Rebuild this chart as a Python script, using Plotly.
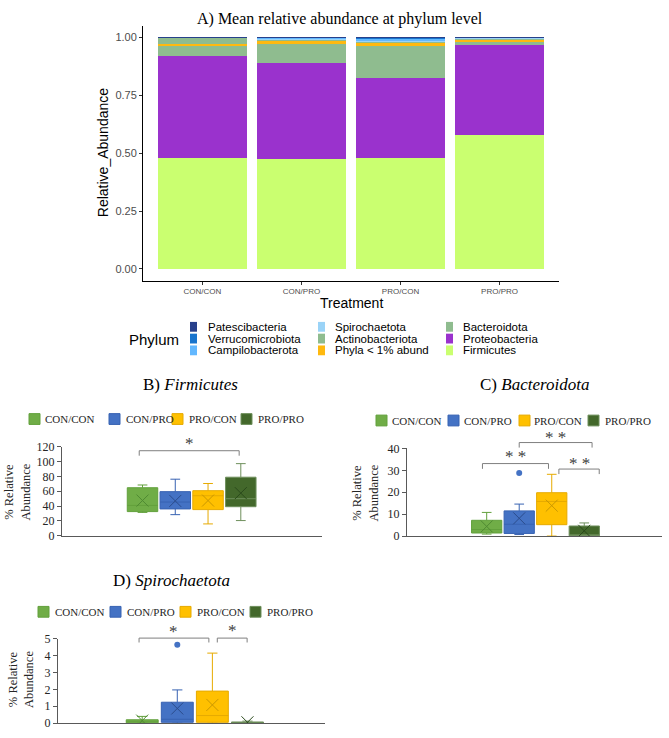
import plotly.graph_objects as go

W, H = 669, 738

# ---------------- data ----------------
treatments = ["CON/CON", "CON/PRO", "PRO/CON", "PRO/PRO"]

# stacking order, bottom -> top
phyla = ["Firmicutes", "Proteobacteria", "Bacteroidota", "Phyla < 1% abund",
         "Actinobacteriota", "Spirochaetota", "Campilobacterota",
         "Verrucomicrobiota", "Patescibacteria"]
phyla_colors = ["#CAFF70", "#9A32CD", "#8FBC8F", "#FFB90F",
                "#8FBC8F", "#9AD3F7", "#63B8FF", "#1874CD", "#27408B"]
firmicutes = [0.477, 0.475, 0.477, 0.579]
proteobacteria = [0.442, 0.416, 0.348, 0.387]
bacteroidota = [0.046, 0.081, 0.137, 0.016]
phyla_lt1 = [0.007, 0.014, 0.016, 0.008]
actinobacteriota = [0.025, 0.002, 0.002, 0.001]
spirochaetota = [0.001, 0.005, 0.006, 0.005]
campilobacterota = [0.001, 0.005, 0.008, 0.003]
verrucomicrobiota = [0.0005, 0.001, 0.003, 0.0005]
patescibacteria = [0.0005, 0.001, 0.003, 0.0005]
phyla_values = [firmicutes, proteobacteria, bacteroidota, phyla_lt1,
                actinobacteriota, spirochaetota, campilobacterota,
                verrucomicrobiota, patescibacteria]
legend_order = ["Patescibacteria", "Verrucomicrobiota", "Campilobacterota",
                "Spirochaetota", "Actinobacteriota", "Phyla < 1% abund",
                "Bacteroidota", "Proteobacteria", "Firmicutes"]

# box plot summaries (% relative abundance)
firm_q1 = [32.6, 36.2, 35.3, 39.2]
firm_med = [41.0, 45.5, 54.0, 50.0]
firm_q3 = [64.8, 59.5, 60.8, 79.0]
firm_lo = [31.5, 28.5, 16.0, 20.5]
firm_hi = [68.5, 76.3, 70.5, 97.3]
firm_mean = [47.5, 47.0, 47.5, 57.5]
firm_out = [[], [], [], []]

bact_q1 = [1.4, 1.2, 5.2, 0.1]
bact_med = [3.0, 5.4, 15.8, 0.4]
bact_q3 = [7.2, 11.5, 19.8, 4.6]
bact_lo = [0.9, 0.7, 0.0, 0.0]
bact_hi = [10.8, 14.6, 28.2, 6.0]
bact_mean = [4.4, 8.1, 13.9, 2.4]
bact_out = [[], [28.8], [], []]

spir_q1 = [0.02, 0.05, 0.05, 0.0]
spir_med = [0.05, 0.23, 0.45, 0.02]
spir_q3 = [0.2, 1.24, 1.9, 0.07]
spir_lo = [0.0, 0.0, 0.0, 0.0]
spir_hi = [0.4, 1.97, 4.15, 0.12]
spir_mean = [0.15, 0.87, 1.08, 0.05]
spir_out = [[], [4.65], [], []]

box_fill = ["#70AD47", "#4472C4", "#FFC000", "#43682B"]
box_line = ["#62A03C", "#3762B2", "#E6AA00", "#6E8F5C"]
mean_col = ["#4F8A32", "#2B4C8C", "#C99700", "#2A4A1B"]

# significance brackets: (from box index, to box index, top value, end value, label, label value)
firm_sig = [(-0.1, 2.95, 114.7, 108.0, "*", 124.0)]
bact_sig = [(-0.13, 1.9, 33.1, 30.7, "* *", 36.4),
            (1.0, 3.24, 42.7, 40.4, "* *", 45.0),
            (2.22, 3.46, 30.6, 28.3, "* *", 33.3)]
spir_sig = [(-0.09, 1.9, 5.04, 4.78, "*", 5.42),
            (2.14, 2.99, 5.04, 4.78, "*", 5.52)]

# ---------------- helpers ----------------
def px(x):
    return x / W


def py(y):
    return 1 - y / H


SANS = "Liberation Sans, Arial, sans-serif"
SERIF = "Liberation Serif, Times New Roman, serif"

fig = go.Figure()
shapes = []
annotations = []


def note(text, x, y, family, size, color="black", xanchor="center", xref="paper",
         yref="paper", **kw):
    annotations.append(dict(text=text, x=x, y=y, xref=xref, yref=yref,
                            xanchor=xanchor, yanchor="middle", showarrow=False,
                            font=dict(family=family, size=size, color=color), **kw))


# ---------------- panel A ----------------
for name, col, vals in zip(phyla, phyla_colors, phyla_values):
    fig.add_trace(go.Bar(x=treatments, y=vals, name=name, marker_color=col,
                         marker_line_width=0, width=0.9, showlegend=False,
                         xaxis="x", yaxis="y"))

fig.update_layout(
    barmode="stack",
    xaxis=dict(domain=[px(143), px(559)], anchor="y", type="category",
               categoryorder="array", categoryarray=treatments, range=[-0.6, 3.6],
               showline=True, linecolor="black", linewidth=1, ticks="outside",
               ticklen=3, tickcolor="#333333", showgrid=False, zeroline=False,
               tickfont=dict(family=SANS, size=8, color="#4D4D4D")),
    yaxis=dict(domain=[py(278.8), py(19.2)], anchor="x", range=[-0.05, 1.05],
               tickvals=[0, 0.25, 0.5, 0.75, 1.0],
               ticktext=["0.00", "0.25", "0.50", "0.75", "1.00"],
               showline=True, linecolor="black", linewidth=1, ticks="outside",
               ticklen=3, tickcolor="#333333", showgrid=False, zeroline=False,
               tickfont=dict(family=SANS, size=11, color="#4D4D4D")),
)
note("A) Mean relative abundance at phylum level", px(340), py(12), SERIF, 16)
note("Treatment", px(351), py(302), SANS, 14)
note("Relative_Abundance", px(103), py(149), SANS, 14, textangle=-90)
note("Phylum", px(181), py(339), SANS, 15, xanchor="right")
col_sw = [190, 318, 446]
col_tx = [206, 333, 461]
row_y = [326, 338, 350]
for k, name in enumerate(legend_order):
    c, r = divmod(k, 3)
    colr = phyla_colors[phyla.index(name)]
    shapes.append(dict(type="rect", xref="paper", yref="paper",
                       x0=px(col_sw[c]), x1=px(col_sw[c] + 7),
                       y0=py(row_y[r] + 5), y1=py(row_y[r] - 5),
                       fillcolor=colr, line=dict(width=0)))
    note(name, px(col_tx[c]), py(row_y[r]), SANS, 11.5, xanchor="left")

# ---------------- box panels ----------------
panels = [
    dict(ax="2", title="B) <i>Firmicutes</i>", tx=191, ty=385,
         xdom=(62, 322), ydom=(539, 448.3), xr=[-2.457, 5.478], yr=[0, 120], dtick=20,
         q1=firm_q1, med=firm_med, q3=firm_q3, lo=firm_lo, hi=firm_hi, mean=firm_mean,
         out=firm_out, sig=firm_sig, bw=0.93,
         leg_sw=[29, 109, 172, 241], leg_tx=[43, 124, 187, 256], leg_y=420,
         yt=(17, 495)),
    dict(ax="3", title="C) <i>Bacteroidota</i>", tx=534, ty=385,
         xdom=(407, 662), ydom=(539.3, 450), xr=[-2.45, 5.39], yr=[0, 40], dtick=10,
         q1=bact_q1, med=bact_med, q3=bact_q3, lo=bact_lo, hi=bact_hi, mean=bact_mean,
         out=bact_out, sig=bact_sig, bw=0.93,
         leg_sw=[376, 448, 519, 588], leg_tx=[390, 462, 532, 603], leg_y=421.5,
         yt=(365, 495)),
    dict(ax="4", title="D) <i>Spirochaetota</i>", tx=171, ty=585,
         xdom=(58, 325), ydom=(730, 644), xr=[-2.40, 5.21], yr=[0, 5], dtick=1,
         q1=spir_q1, med=spir_med, q3=spir_q3, lo=spir_lo, hi=spir_hi, mean=spir_mean,
         out=spir_out, sig=spir_sig, bw=0.91,
         leg_sw=[38, 110, 180, 250], leg_tx=[53, 125, 195, 265], leg_y=616.5,
         yt=(21, 686)),
]

for p in panels:
    a = p["ax"]
    xa, ya = "x" + a, "y" + a
    for i, t in enumerate(treatments):
        fig.add_trace(go.Box(
            x=[t], q1=[p["q1"][i]], median=[p["med"][i]], q3=[p["q3"][i]],
            lowerfence=[p["lo"][i]], upperfence=[p["hi"][i]],
            fillcolor=box_fill[i], line=dict(color=box_line[i], width=1),
            whiskerwidth=0.32, width=p["bw"], boxpoints=False, name=t,
            showlegend=False, xaxis=xa, yaxis=ya, hoverinfo="skip"))
        fig.add_trace(go.Scatter(
            x=[t], y=[p["mean"][i]], mode="markers", showlegend=False,
            marker=dict(symbol="x-thin-open", size=12, color=mean_col[i],
                        line=dict(color=mean_col[i], width=1)),
            xaxis=xa, yaxis=ya, hoverinfo="skip"))
        if p["out"][i]:
            fig.add_trace(go.Scatter(
                x=[t] * len(p["out"][i]), y=p["out"][i], mode="markers",
                showlegend=False, cliponaxis=False,
                marker=dict(symbol="circle", size=6, color=box_fill[i]),
                xaxis=xa, yaxis=ya, hoverinfo="skip"))
    fig.layout["xaxis" + a] = dict(
        domain=[px(p["xdom"][0]), px(p["xdom"][1])], anchor=ya, type="category",
        categoryorder="array", categoryarray=treatments, range=p["xr"],
        showticklabels=False, ticks="", showline=True, linecolor="#595959",
        linewidth=1, showgrid=False, zeroline=False)
    fig.layout["yaxis" + a] = dict(
        domain=[py(p["ydom"][0]), py(p["ydom"][1])], anchor=xa, range=p["yr"],
        dtick=p["dtick"], showline=True, linecolor="#595959", linewidth=1,
        ticks="outside", ticklen=4, tickcolor="#595959", showgrid=False,
        zeroline=False, tickfont=dict(family=SERIF, size=12, color="#262626"))
    # titles
    note(p["title"], px(p["tx"]), py(p["ty"]), SERIF, 17)
    note("% Relative<br>Abundance", px(p["yt"][0]), py(p["yt"][1]), SERIF, 12.5,
         color="#262626", textangle=-90)
    # legend row
    for i, t in enumerate(treatments):
        shapes.append(dict(type="rect", xref="paper", yref="paper",
                           x0=px(p["leg_sw"][i]), x1=px(p["leg_sw"][i] + 11),
                           y0=py(p["leg_y"] + 5.5), y1=py(p["leg_y"] - 5.5),
                           fillcolor=box_fill[i], line=dict(color=box_line[i], width=1)))
        note(t, px(p["leg_tx"][i]), py(p["leg_y"]), SERIF, 11, color="#262626",
             xanchor="left")
    # significance brackets
    x0r, x1r = p["xr"]
    ymax = p["yr"][1]
    for (i0, i1, top, end, lab, laby) in p["sig"]:
        fx0 = (i0 - x0r) / (x1r - x0r)
        fx1 = (i1 - x0r) / (x1r - x0r)
        ft, fe = top / ymax, end / ymax
        shapes.append(dict(type="path", xref=xa + " domain", yref=ya + " domain",
                           path=f"M {fx0},{fe} L {fx0},{ft} L {fx1},{ft} L {fx1},{fe}",
                           line=dict(color="#7F7F7F", width=1)))
        note(lab, (fx0 + fx1) / 2, laby / ymax, SERIF, 17, color="#404040",
             xref=xa + " domain", yref=ya + " domain")

fig.update_layout(
    width=W, height=H, margin=dict(l=0, r=0, t=0, b=0),
    paper_bgcolor="white", plot_bgcolor="white",
    boxmode="overlay", showlegend=False, hovermode=False,
    shapes=shapes, annotations=annotations,
)

fig.write_html("out.html", config={"displayModeBar": False, "staticPlot": True},
               post_script="document.body.style.margin='0';")
